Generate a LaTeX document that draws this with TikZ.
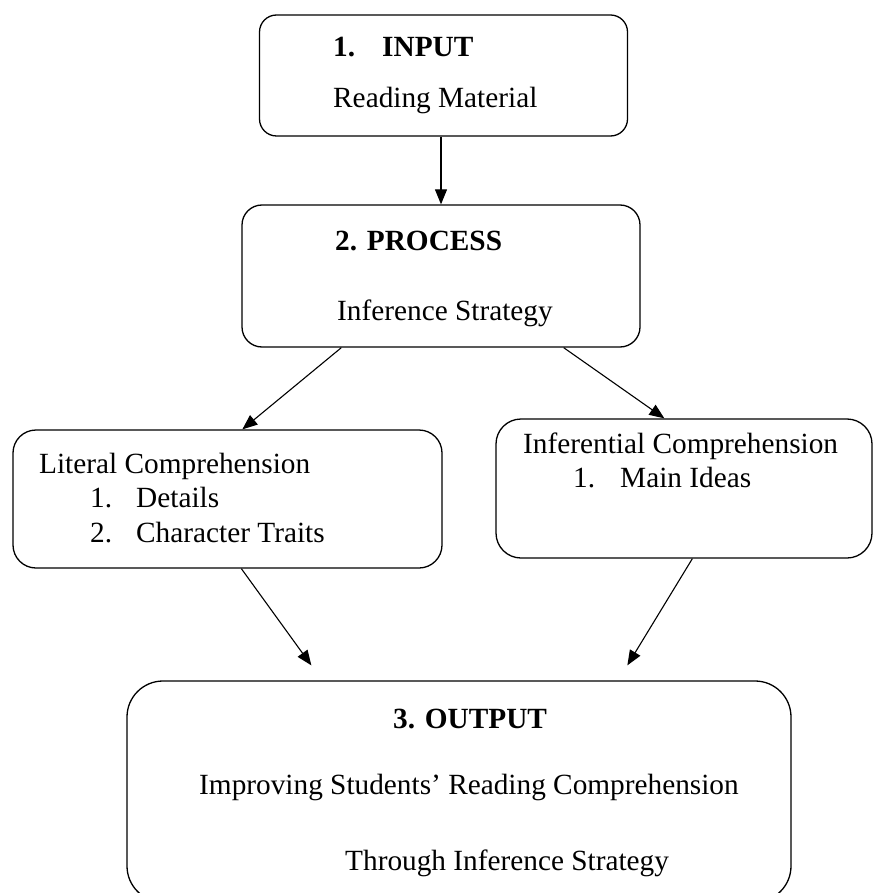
\documentclass[tikz,border=0pt]{standalone}
\usepackage{fontspec}
\setmainfont{Liberation Serif}
\usetikzlibrary{arrows.meta,calc}
\begin{document}
\begin{tikzpicture}[x=1pt,y=-1pt,
  box/.style={draw, line width=1.3pt, rounded corners=#1, inner sep=0pt},
  box/.default=20pt,
  txt/.style={anchor=base west, inner sep=0pt, font=\fontsize{29.3}{35}\selectfont},
  btxt/.style={anchor=base west, inner sep=0pt, font=\fontsize{29.3}{35}\selectfont\bfseries},
  arr/.style={line width=1.1pt, -{Triangle[length=15pt,width=12pt]}}]
\useasboundingbox (0,0) rectangle (873,893);

% boxes
\node[box=17pt, minimum width=368pt, minimum height=121pt] (b1) at (443.5,75.5) {};
\node[box=20pt, minimum width=398pt, minimum height=142pt] (b2) at (441,276) {};
\node[box=23pt, minimum width=429pt, minimum height=138pt] (b3) at (227.5,499) {};
\node[box=25pt, minimum width=376pt, minimum height=139pt] (b4) at (684,488.5) {};
\node[box=36pt, minimum width=664pt, minimum height=221pt] (b5) at (459,791.5) {};

% texts
\node[btxt] (t1n) at (333,57) {1.};
\node[btxt] (t1h) at (382,57) {INPUT};
\node[txt] (t1b) at (333,108) {Reading Material};
\node[btxt] (t2h) at (335,250) {2. PROCESS};
\node[txt] (t2b) at (337,320) {Inference Strategy};
\node[txt] (t3h) at (39,473) {Literal Comprehension};
\node[txt] (t3n1) at (90,507) {1.};
\node[txt] (t3i1) at (136,507) {Details};
\node[txt] (t3n2) at (90,542) {2.};
\node[txt] (t3i2) at (136,542) {Character Traits};
\node[txt] (t4h) at (523,453) {Inferential Comprehension};
\node[txt] (t4n1) at (573,487) {1.};
\node[txt] (t4i1) at (620,487) {Main Ideas};
\node[btxt] (t5h) at (393,728) {3. OUTPUT};
\node[txt] (t5a) at (199,794) {Improving Students’ Reading Comprehension};
\node[txt] (t5b) at (345,870) {Through Inference Strategy};

% connectors
\draw[arr] (b2.north |- b1.south) -- (b2.north);
\draw[arr] ([xshift=100pt]b2.south west) -- ([xshift=230pt]b3.north west);
\draw[arr] ([xshift=-77pt]b2.south east) -- ([xshift=169pt]b4.north west);
\draw[arr] ([xshift=229pt]b3.south west) -- ([xshift=185pt,yshift=15pt]b5.north west);
\draw[arr] ([xshift=197pt]b4.south west) -- ([xshift=501pt,yshift=15pt]b5.north west);
\end{tikzpicture}
\end{document}
